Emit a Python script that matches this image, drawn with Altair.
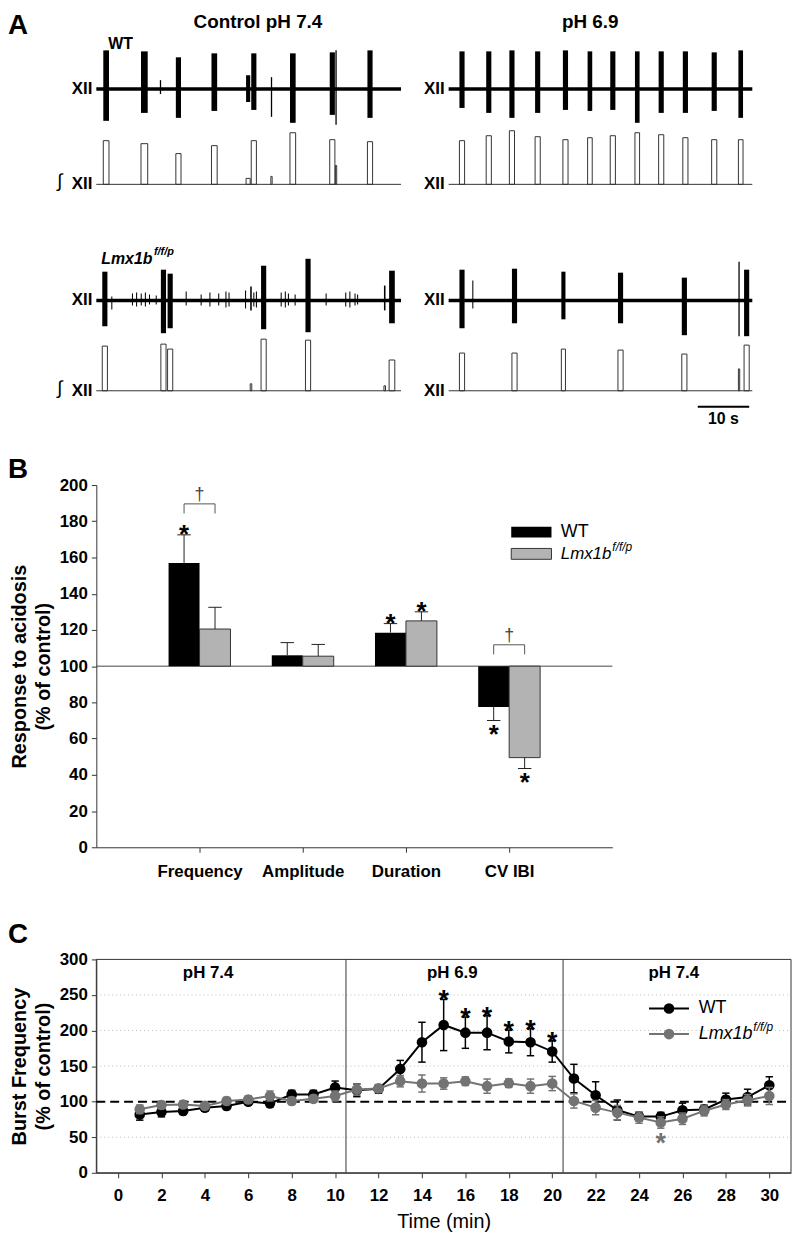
import json
import altair as alt
import pandas as pd

FONT = "Liberation Sans"

# ======================= Panel A : XII nerve recordings =======================
TRACE_SECONDS = 59
SCALE_BAR_T = [48.4, 58.4]          # 10 s scale bar

# WT, control pH 7.4  (burst onset s, duration s, raw up / down, integrated peak)
WT_CTRL_T   = [1.35, 8.65, 12.3, 15.4, 22.3, 29.0, 30.0, 33.8, 37.5, 45.2, 46.3, 52.5]
WT_CTRL_DUR = [1.1, 1.3, 0.25, 1.0, 1.1, 0.8, 1.0, 0.25, 1.1, 1.0, 0.25, 1.0]
WT_CTRL_UP  = [39, 38, 9, 32, 36, 14, 36, 12, 36, 37, 39, 39]
WT_CTRL_DN  = [32, 24, 5, 29, 22, 13, 21, 28, 34, 26, 36, 29]
WT_CTRL_INT = [44, 41, 0, 31, 39, 6, 44, 8, 52, 45, 19, 43]

# WT, pH 6.9
WT_PH_T   = [2.1, 7.3, 11.8, 16.8, 22.2, 27.0, 31.4, 36.2, 40.8, 45.5, 51.1, 56.3]
WT_PH_DUR = [1.0, 1.0, 1.0, 1.0, 1.0, 0.9, 1.0, 0.9, 1.0, 1.0, 1.0, 0.9]
WT_PH_UP  = [38, 38, 39, 38, 39, 38, 38, 38, 38, 38, 37, 39]
WT_PH_DN  = [19, 24, 29, 24, 21, 22, 21, 34, 24, 24, 22, 29]
WT_PH_INT = [44, 49, 54, 48, 45, 47, 49, 52, 50, 47, 45, 45]

# Lmx1b f/f/p, control pH 7.4
LMX_CTRL_T = [1.15, 2.9, 6.9, 7.7, 8.6, 9.4, 10.2, 11.5, 12.5, 13.8, 17.3, 20.2, 21.9,
              23.6, 25.0, 25.6, 28.8, 29.8, 30.4, 30.9, 31.9, 35.7, 36.5, 37.1, 38.4,
              40.5, 44.4, 48.2, 49.0, 50.0, 50.5, 55.7, 56.7]
LMX_CTRL_DUR = [1.0, 0.2, 0.2, 0.2, 0.2, 0.2, 0.2, 0.2, 1.0, 1.0, 0.2, 0.2, 0.2,
                0.2, 0.2, 0.2, 0.2, 0.3, 0.2, 0.2, 1.0, 0.2, 0.2, 0.2, 0.2,
                1.0, 0.2, 0.2, 0.2, 0.2, 0.2, 0.3, 1.1]
LMX_CTRL_UP = [29, 4, 7, 8, 7, 8, 6, 5, 31, 27, 9, 6, 8,
               7, 9, 8, 10, 14, 8, 9, 35, 8, 9, 7, 6,
               42, 7, 8, 9, 7, 6, 15, 30]
LMX_CTRL_DN = [26, 9, 5, 6, 5, 6, 4, 4, 33, 28, 5, 5, 6,
               5, 7, 6, 8, 10, 6, 7, 29, 6, 7, 5, 5,
               32, 5, 6, 7, 5, 4, 10, 23]
LMX_CTRL_INT = [45, 0, 0, 0, 0, 0, 0, 0, 47, 42, 0, 0, 0,
                0, 0, 0, 0, 7, 0, 0, 52, 0, 0, 0, 0,
                51, 0, 0, 0, 0, 0, 5, 31]

# Lmx1b f/f/p, pH 6.9
LMX_PH_T   = [2.1, 4.6, 12.3, 21.9, 32.9, 45.3, 56.3, 57.4]
LMX_PH_DUR = [1.0, 0.2, 1.0, 0.8, 1.0, 1.0, 0.25, 1.0]
LMX_PH_UP  = [31, 20, 32, 29, 28, 23, 39, 31]
LMX_PH_DN  = [28, 8, 23, 19, 23, 35, 36, 36]
LMX_PH_INT = [38, 0, 38, 42, 41, 37, 22, 46]

A_XRANGE = {"ctrl": [0, 307], "ph": [355, 661]}
A_Y = {
    "WT": {"raw": ([-45, 45], [122, 32]), "int": ([0, 60], [173, 113])},
    "Lmx": {"raw": ([-45, 45], [335, 245]), "int": ([0, 60], [381, 321])},
}


def events_df(t, dur, up, dn, ipk):
    return pd.DataFrame({
        "t": t,
        "t1": [a + b for a, b in zip(t, dur)],
        "hi": up,
        "lo": [-d for d in dn],
        "ipk": ipk,
        "z": [0] * len(t),
    })


def ax(field, col):
    return alt.X(f"{field}:Q", axis=None,
                 scale=alt.Scale(domain=[0, TRACE_SECONDS], range=A_XRANGE[col], nice=False, zero=False))


def ay(field, geno, kind):
    d, r = A_Y[geno][kind]
    return alt.Y(f"{field}:Q", axis=None,
                 scale=alt.Scale(domain=d, range=r, nice=False, zero=False))


def trace_layers(ev, geno, col):
    base = pd.DataFrame({"t0": [0], "t1": [TRACE_SECONDS], "v": [0], "lab": ["XII"], "ig": ["\u222b"]})
    L = [
        alt.Chart(base).mark_rule(color="black", strokeWidth=3.5).encode(
            x=ax("t0", col), x2="t1", y=ay("v", geno, "raw")),
        alt.Chart(ev).mark_rect(color="black").encode(
            x=ax("t", col), x2="t1", y=ay("lo", geno, "raw"), y2="hi"),
        alt.Chart(base).mark_text(align="right", baseline="middle", dx=-4, fontSize=17,
                                  fontWeight="bold", font=FONT, color="black").encode(
            x=ax("t0", col), y=ay("v", geno, "raw"), text="lab:N"),
        alt.Chart(base).mark_rule(color="#333", strokeWidth=1).encode(
            x=ax("t0", col), x2="t1", y=ay("v", geno, "int")),
        alt.Chart(ev[ev["ipk"] > 0]).mark_rect(fillOpacity=0, stroke="#333", strokeWidth=1).encode(
            x=ax("t", col), x2="t1", y=ay("z", geno, "int"), y2="ipk"),
        alt.Chart(base).mark_text(align="right", baseline="middle", dx=-4, fontSize=17,
                                  fontWeight="bold", font=FONT, color="black").encode(
            x=ax("t0", col), y=ay("v", geno, "int"), text="lab:N"),
    ]
    if col == "ctrl":
        L.append(alt.Chart(base).mark_text(align="center", baseline="middle", dx=-37, dy=-3,
                                           fontSize=19, font=FONT, color="black").encode(
            x=ax("t0", col), y=ay("v", geno, "int"), text="ig:N"))
    return L


a_layers = []
a_layers += trace_layers(events_df(WT_CTRL_T, WT_CTRL_DUR, WT_CTRL_UP, WT_CTRL_DN, WT_CTRL_INT), "WT", "ctrl")
a_layers += trace_layers(events_df(WT_PH_T, WT_PH_DUR, WT_PH_UP, WT_PH_DN, WT_PH_INT), "WT", "ph")
a_layers += trace_layers(events_df(LMX_CTRL_T, LMX_CTRL_DUR, LMX_CTRL_UP, LMX_CTRL_DN, LMX_CTRL_INT), "Lmx", "ctrl")
a_layers += trace_layers(events_df(LMX_PH_T, LMX_PH_DUR, LMX_PH_UP, LMX_PH_DN, LMX_PH_INT), "Lmx", "ph")

A_TITLES = ["Control pH 7.4", "pH 6.9"]
title_ctrl = pd.DataFrame({"t": [31.3], "v": [67.5], "s": [A_TITLES[0]]})
title_ph = pd.DataFrame({"t": [27.5], "v": [67.5], "s": [A_TITLES[1]]})
for df, col in [(title_ctrl, "ctrl"), (title_ph, "ph")]:
    a_layers.append(alt.Chart(df).mark_text(align="center", baseline="middle", fontSize=19,
                                            fontWeight="bold", font=FONT, color="black").encode(
        x=ax("t", col), y=ay("v", "WT", "raw"), text="s:N"))

wt_lab = pd.DataFrame({"t": [2.3], "v": [45], "s": ["WT"]})
a_layers.append(alt.Chart(wt_lab).mark_text(align="left", baseline="middle", fontSize=16,
                                            fontWeight="bold", font=FONT, color="black").encode(
    x=ax("t", "ctrl"), y=ay("v", "WT", "raw"), text="s:N"))
lmx_lab = pd.DataFrame({"t": [0.96], "v": [42], "s": ["Lmx1b"], "sup": ["f/f/p"]})
a_layers.append(alt.Chart(lmx_lab).mark_text(align="left", baseline="middle", fontSize=16,
                                             fontWeight="bold", fontStyle="italic", font=FONT,
                                             color="black").encode(
    x=ax("t", "ctrl"), y=ay("v", "Lmx", "raw"), text="s:N"))
a_layers.append(alt.Chart(lmx_lab).mark_text(align="left", baseline="middle", fontSize=11, dx=53, dy=-7,
                                             fontWeight="bold", fontStyle="italic", font=FONT,
                                             color="black").encode(
    x=ax("t", "ctrl"), y=ay("v", "Lmx", "raw"), text="sup:N"))

sbar = pd.DataFrame({"t0": [SCALE_BAR_T[0]], "t1": [SCALE_BAR_T[1]],
                     "tc": [(SCALE_BAR_T[0] + SCALE_BAR_T[1]) / 2], "v": [-16], "vt": [-28],
                     "lab": ["10 s"]})
a_layers.append(alt.Chart(sbar).mark_rule(color="black", strokeWidth=2).encode(
    x=ax("t0", "ph"), x2="t1", y=ay("v", "Lmx", "int")))
a_layers.append(alt.Chart(sbar).mark_text(align="center", baseline="middle", fontSize=16,
                                          fontWeight="bold", font=FONT, color="black").encode(
    x=ax("tc", "ph"), y=ay("vt", "Lmx", "int"), text="lab:N"))

a_layers.append(alt.Chart(pd.DataFrame({"s": ["A"]})).mark_text(
    align="left", baseline="top", fontSize=28, fontWeight="bold", font=FONT, color="black").encode(
    x=alt.value(-89), y=alt.value(0), text="s:N"))

panel_a = alt.layer(*a_layers).resolve_scale(x="independent", y="independent").properties(
    width=665, height=418)

# ======================= Panel B : response to acidosis =======================
MEASURES = ["Frequency", "Amplitude", "Duration", "CV IBI"]
B_WT = [157, 106, 118.5, 77.5]
B_WT_ERR = [15.5, 7, 5, 7.5]
B_LMX = [120.5, 105.5, 125, 49.5]
B_LMX_ERR = [12, 6.5, 5, 6]
B_WT_SIG = [True, False, True, True]
B_LMX_SIG = [False, False, True, True]
B_DAGGER_AT = ["Frequency", "CV IBI"]
B_BRACKET_TOP = [189.6, 111.8]
B_BRACKET_DROP = 5.3
B_LEGEND = ["WT", "Lmx1b"]

BAR_W = 0.3
CAP = 0.065
rows = []
for i, m in enumerate(MEASURES):
    for g, vals, errs, sigs, off in [("WT", B_WT, B_WT_ERR, B_WT_SIG, -BAR_W),
                                     ("Lmx", B_LMX, B_LMX_ERR, B_LMX_SIG, 0.0)]:
        v, e = vals[i], errs[i]
        x0 = i + 1 + off
        xc = x0 + BAR_W / 2
        rows.append(dict(measure=m, group=g, x0=x0, x1=x0 + BAR_W, xc=xc, c0=xc - CAP, c1=xc + CAP,
                         value=v, base=100, end=(v + e if v >= 100 else v - e),
                         sig=sigs[i], up=v >= 100))
bdf = pd.DataFrame(rows)

label_expr = json.dumps([""] + MEASURES) + "[datum.value]"


def bx(field):
    return alt.X(field, type="quantitative",
                 scale=alt.Scale(domain=[0, 5], nice=False, zero=False),
                 axis=alt.Axis(values=[1, 2, 3, 4], labelExpr=label_expr, title=None, tickSize=5,
                               labelPadding=11, labelFontSize=17, labelFontWeight="bold", grid=False))


def by(field):
    return alt.Y(field, type="quantitative",
                 scale=alt.Scale(domain=[0, 200], nice=False, zero=False),
                 axis=alt.Axis(values=list(range(0, 201, 20)), tickSize=5, labelPadding=4,
                               labelFontSize=17, labelFontWeight="bold", grid=False,
                               title=["Response to acidosis", "(% of control)"], titleFontSize=20,
                               titleFontWeight="bold", titlePadding=6, titleLineHeight=24))


b_layers = []
b_layers.append(alt.Chart(pd.DataFrame({"x0": [0], "x1": [5], "y": [100]})).mark_rule(
    color="#444", strokeWidth=1).encode(x=bx("x0"), x2="x1", y=by("y")))
b_layers.append(alt.Chart(bdf[bdf.group == "WT"]).mark_rect(color="black").encode(
    x=bx("x0"), x2="x1", y=by("value"), y2="base"))
b_layers.append(alt.Chart(bdf[bdf.group == "Lmx"]).mark_rect(fill="#b3b3b3", stroke="#333",
                                                             strokeWidth=1).encode(
    x=bx("x0"), x2="x1", y=by("value"), y2="base"))
b_layers.append(alt.Chart(bdf).mark_rule(color="#222", strokeWidth=1).encode(
    x=bx("xc"), y=by("value"), y2="end"))
b_layers.append(alt.Chart(bdf).mark_rule(color="#222", strokeWidth=1).encode(
    x=bx("c0"), x2="c1", y=by("end")))
b_layers.append(alt.Chart(bdf[bdf.sig & bdf.up]).mark_text(
    text="*", fontSize=26, fontWeight="bold", font=FONT, color="black", dy=8,
    baseline="alphabetic").encode(x=bx("xc"), y=by("end")))
b_layers.append(alt.Chart(bdf[bdf.sig & ~bdf.up]).mark_text(
    text="*", fontSize=26, fontWeight="bold", font=FONT, color="black", dy=23,
    baseline="alphabetic").encode(x=bx("xc"), y=by("end")))

br_rows = []
for m, top in zip(B_DAGGER_AT, B_BRACKET_TOP):
    wt = bdf[(bdf.measure == m) & (bdf.group == "WT")].iloc[0]
    lx = bdf[(bdf.measure == m) & (bdf.group == "Lmx")].iloc[0]
    br_rows.append(dict(xa=wt.xc, xb=lx.xc, xm=(wt.xc + lx.xc) / 2, top=top, leg=top - B_BRACKET_DROP))
brdf = pd.DataFrame(br_rows)
b_layers.append(alt.Chart(brdf).mark_rule(color="#555", strokeWidth=1).encode(
    x=bx("xa"), x2="xb", y=by("top")))
b_layers.append(alt.Chart(brdf).mark_rule(color="#555", strokeWidth=1).encode(
    x=bx("xa"), y=by("top"), y2="leg"))
b_layers.append(alt.Chart(brdf).mark_rule(color="#555", strokeWidth=1).encode(
    x=bx("xb"), y=by("top"), y2="leg"))
b_layers.append(alt.Chart(brdf).mark_text(text="\u2020", fontSize=18, font=FONT, color="#444444",
                                          dy=-4, baseline="alphabetic").encode(
    x=bx("xm"), y=by("top")))

bleg = pd.DataFrame({"x0": [4.02, 4.02], "x1": [4.41, 4.41], "y0": [171, 159], "y1": [177, 165],
                     "xt": [4.5, 4.5], "yt": [174, 162], "label": B_LEGEND, "sup": ["", "f/f/p"]})
b_layers.append(alt.Chart(bleg.iloc[[0]]).mark_rect(color="black").encode(
    x=bx("x0"), x2="x1", y=by("y0"), y2="y1"))
b_layers.append(alt.Chart(bleg.iloc[[1]]).mark_rect(fill="#b3b3b3", stroke="#333", strokeWidth=1).encode(
    x=bx("x0"), x2="x1", y=by("y0"), y2="y1"))
b_layers.append(alt.Chart(bleg.iloc[[0]]).mark_text(align="left", baseline="middle", fontSize=18,
                                                    font=FONT, color="black").encode(
    x=bx("xt"), y=by("yt"), text="label:N"))
b_layers.append(alt.Chart(bleg.iloc[[1]]).mark_text(align="left", baseline="middle", fontSize=17,
                                                    fontStyle="italic", font=FONT, color="black").encode(
    x=bx("xt"), y=by("yt"), text="label:N"))
b_layers.append(alt.Chart(bleg.iloc[[1]]).mark_text(align="left", baseline="middle", fontSize=12,
                                                    dx=52, dy=-7, fontStyle="italic", font=FONT,
                                                    color="black").encode(
    x=bx("xt"), y=by("yt"), text="sup:N"))
b_layers.append(alt.Chart(pd.DataFrame({"s": ["B"]})).mark_text(
    align="left", baseline="top", fontSize=28, fontWeight="bold", font=FONT, color="black").encode(
    x=alt.value(-89), y=alt.value(-29), text="s:N"))

panel_b = alt.layer(*b_layers).properties(width=520, height=365)

# ======================= Panel C : burst frequency time course =======================
TIME_MIN = list(range(1, 31))
WT_MEAN = [82, 85.6, 87, 91.5, 94, 100, 97.6, 110, 110, 120, 116, 118, 146, 183.6, 207.8,
           197, 197, 184.6, 183.6, 170.6, 132.5, 109, 88.3, 79, 79, 87.9, 89, 103, 106.5, 123]
WT_SEM = [8, 7, 5, 5, 5, 4, 5, 6, 6, 9, 9, 6, 12, 28, 36, 22, 24, 16, 19, 15, 20, 19, 14,
          6, 6, 10, 6, 9, 11, 12]
LMX_MEAN = [89.3, 95.3, 96, 94, 101, 103, 108, 101, 104, 108, 117, 118.5, 128.8, 125.5, 125.5,
            128.8, 121.8, 126, 121.8, 125.5, 101, 91.6, 84.6, 77.6, 70.7, 76, 87, 96, 102, 108]
LMX_SEM = [6, 5, 5, 4, 5, 5, 7, 5, 5, 7, 8, 5, 8, 12, 8, 6, 10, 6, 10, 10, 10, 10, 10,
           8, 8, 8, 7, 7, 8, 12]
WT_SIG_T = [15, 16, 17, 18, 19, 20]
LMX_SIG_T = [25]
PHASE_BOUNDS = [10.5, 20.5]
PHASE_LABELS = ["pH 7.4", "pH 6.9", "pH 7.4"]
PHASE_LABEL_X = [4.15, 15.4, 25.6]
PHASE_LABEL_Y = 281
GRID_Y = [50, 150, 200, 250]
C_LEGEND = ["WT", "Lmx1b"]

GROUPS = ["WT", "Lmx"]
COLORS = ["black", "#737373"]
color_enc = alt.Color("group:N", scale=alt.Scale(domain=GROUPS, range=COLORS), legend=None)

cdf = pd.DataFrame({"t": TIME_MIN * 2, "group": ["WT"] * 30 + ["Lmx"] * 30,
                    "mean": WT_MEAN + LMX_MEAN, "sem": WT_SEM + LMX_SEM})
cdf["lo"] = cdf["mean"] - cdf["sem"]
cdf["hi"] = cdf["mean"] + cdf["sem"]
cdf["c0"] = cdf["t"] - 0.17
cdf["c1"] = cdf["t"] + 0.17


def cx(field):
    return alt.X(field, type="quantitative",
                 scale=alt.Scale(domain=[-1, 31], nice=False, zero=False),
                 axis=alt.Axis(values=list(range(0, 31, 2)), tickSize=5, labelPadding=10,
                               labelFontSize=17, labelFontWeight="bold", grid=False,
                               title="Time (min)", titleFontSize=20, titleFontWeight="normal",
                               titlePadding=8))


def cy(field):
    return alt.Y(field, type="quantitative",
                 scale=alt.Scale(domain=[0, 300], nice=False, zero=False),
                 axis=alt.Axis(values=list(range(0, 301, 50)), tickSize=5, labelPadding=4,
                               labelFontSize=17, labelFontWeight="bold", grid=False,
                               title=["Burst Frequency", "(% of control)"], titleFontSize=20,
                               titleFontWeight="bold", titlePadding=6, titleLineHeight=24))


c_layers = []
c_layers.append(alt.Chart(pd.DataFrame({"y": GRID_Y, "x0": -1, "x1": 31})).mark_rule(
    color="#bbbbbb", strokeWidth=1, strokeDash=[1, 3]).encode(x=cx("x0"), x2="x1", y=cy("y")))
c_layers.append(alt.Chart(pd.DataFrame({"x0": [-1], "x1": [31], "y0": [0], "y1": [300]})).mark_rect(
    fillOpacity=0, stroke="#333", strokeWidth=1).encode(x=cx("x0"), x2="x1", y=cy("y0"), y2="y1"))
c_layers.append(alt.Chart(pd.DataFrame({"x": PHASE_BOUNDS, "y0": 0, "y1": 300})).mark_rule(
    color="#333", strokeWidth=1).encode(x=cx("x"), y=cy("y0"), y2="y1"))
c_layers.append(alt.Chart(pd.DataFrame({"x0": [-1], "x1": [31], "y": [100]})).mark_rule(
    color="black", strokeWidth=2, strokeDash=[9, 5]).encode(x=cx("x0"), x2="x1", y=cy("y")))

for g in GROUPS:
    d = cdf[cdf.group == g]
    c_layers.append(alt.Chart(d).mark_line(strokeWidth=2).encode(
        x=cx("t"), y=cy("mean"), color=color_enc))
    c_layers.append(alt.Chart(d).mark_rule(strokeWidth=1.5).encode(
        x=cx("t"), y=cy("lo"), y2="hi", color=color_enc))
    c_layers.append(alt.Chart(d).mark_rule(strokeWidth=1.5).encode(
        x=cx("c0"), x2="c1", y=cy("lo"), color=color_enc))
    c_layers.append(alt.Chart(d).mark_rule(strokeWidth=1.5).encode(
        x=cx("c0"), x2="c1", y=cy("hi"), color=color_enc))
    c_layers.append(alt.Chart(d).mark_circle(size=115, opacity=1).encode(
        x=cx("t"), y=cy("mean"), color=color_enc))

wt_sig = cdf[(cdf.group == "WT") & cdf.t.isin(WT_SIG_T)]
lmx_sig = cdf[(cdf.group == "Lmx") & cdf.t.isin(LMX_SIG_T)]
c_layers.append(alt.Chart(wt_sig).mark_text(text="*", fontSize=27, fontWeight="bold", font=FONT,
                                            color="black", dy=10, baseline="alphabetic").encode(
    x=cx("t"), y=cy("hi")))
c_layers.append(alt.Chart(lmx_sig).mark_text(text="*", fontSize=27, fontWeight="bold", font=FONT,
                                             color="#737373", dy=24, baseline="alphabetic").encode(
    x=cx("t"), y=cy("lo")))

c_layers.append(alt.Chart(pd.DataFrame({"x": PHASE_LABEL_X, "y": PHASE_LABEL_Y, "s": PHASE_LABELS}))
                .mark_text(align="center", baseline="middle", fontSize=17, fontWeight="bold",
                           font=FONT, color="black").encode(x=cx("x"), y=cy("y"), text="s:N"))

cleg = pd.DataFrame({"x0": [24.46, 24.46], "x1": [26.3, 26.3], "xm": [25.38, 25.38],
                     "y": [231, 195], "xt": [26.75, 26.75], "group": GROUPS,
                     "label": C_LEGEND, "sup": ["", "f/f/p"]})
c_layers.append(alt.Chart(cleg).mark_rule(strokeWidth=2).encode(
    x=cx("x0"), x2="x1", y=cy("y"), color=color_enc))
c_layers.append(alt.Chart(cleg).mark_circle(size=115, opacity=1).encode(
    x=cx("xm"), y=cy("y"), color=color_enc))
c_layers.append(alt.Chart(cleg.iloc[[0]]).mark_text(align="left", baseline="middle", fontSize=18,
                                                    font=FONT, color="black").encode(
    x=cx("xt"), y=cy("y"), text="label:N"))
c_layers.append(alt.Chart(cleg.iloc[[1]]).mark_text(align="left", baseline="middle", fontSize=18,
                                                    fontStyle="italic", font=FONT, color="black").encode(
    x=cx("xt"), y=cy("y"), text="label:N"))
c_layers.append(alt.Chart(cleg.iloc[[1]]).mark_text(align="left", baseline="middle", fontSize=12,
                                                    dx=55, dy=-7, fontStyle="italic", font=FONT,
                                                    color="black").encode(
    x=cx("xt"), y=cy("y"), text="sup:N"))
c_layers.append(alt.Chart(pd.DataFrame({"s": ["C"]})).mark_text(
    align="left", baseline="top", fontSize=28, fontWeight="bold", font=FONT, color="black").encode(
    x=alt.value(-89), y=alt.value(-39), text="s:N"))

panel_c = alt.layer(*c_layers).properties(width=700, height=215)

chart = alt.vconcat(alt.vconcat(panel_a, panel_b, spacing=29), panel_c, spacing=42).properties(
    padding=0
).configure_view(strokeWidth=0).configure_axis(
    labelFont=FONT, titleFont=FONT, labelColor="black", titleColor="black",
    domainColor="#333", tickColor="#333"
)

chart.save("out.html", embed_options={"renderer": "svg", "actions": False})
